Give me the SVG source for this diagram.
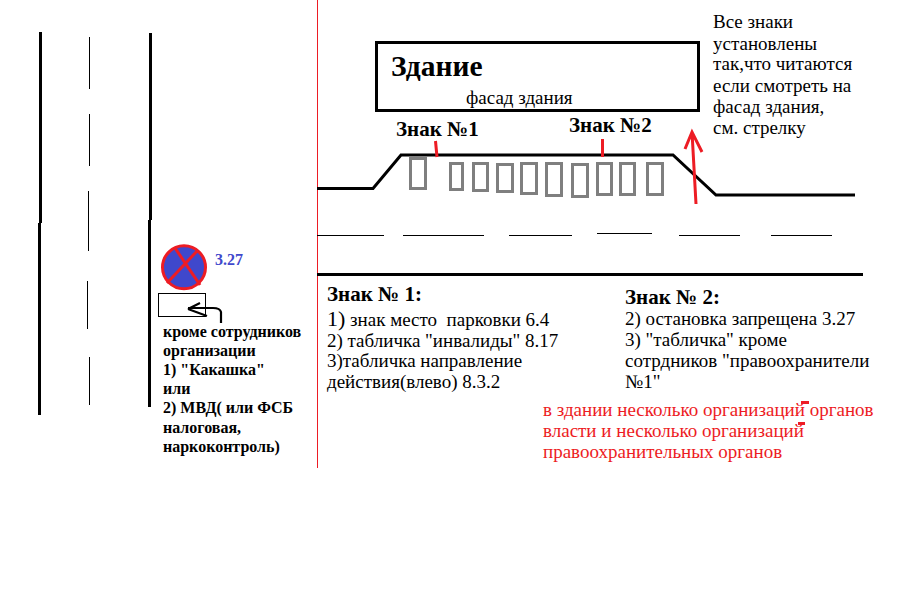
<svg xmlns="http://www.w3.org/2000/svg" width="907" height="614" viewBox="0 0 907 614">
<style>
text{font-family:"Liberation Serif","Times New Roman",serif;fill:#000}
.b{font-weight:bold}
.t16{font-size:19px}
.h{font-size:21px;font-weight:bold}
.bl{font-size:16px;font-weight:bold}
.r{fill:#ed1c24;font-size:19px}
.k{fill:none;stroke:#000}
.g{fill:none;stroke:#7f7f7f;stroke-width:3}
.red{fill:none;stroke:#ed1c24;stroke-width:3}
</style>
<rect width="907" height="614" fill="#fff"/>
<g id="connectors">
<path class="k" stroke-width="3" d="M40.500 32V223M39.500 223V415M150.500 33V220M149.500 220V407"/>
<path class="k" stroke-width="1" d="M89.500 37V89M89.500 114V166M88.500 191V251M87.500 281V329M89.500 357V405"/>
<path d="M317.500 0V468" fill="none" stroke="#ed1c24"/>
<path class="k" stroke-width="3" d="M317 188.500H373L401 155H673L716 195H855"/>
<path class="k" stroke-width="1" d="M317 235.500H384M403 235.500H484M509 235.500H572M597 233.500H652M679 235.500H740M771 235.500H832"/>
<path class="k" stroke-width="3" d="M317 274.500H863"/>
<path class="red" d="M435.500 141L437 157M602.500 139V157"/>
<path class="red" d="M692 132L696 204M685 149L692 132L702 152"/>
<path class="red" d="M801 402.500H809M798 423.500H805"/>
</g>
<g id="building">
<rect x="376.500" y="42.500" width="322" height="68" fill="none" stroke="#000" stroke-width="3"/>
<text x="391" y="76" class="b" font-size="29.500">Здание</text>
<text x="466" y="104" class="t16">фасад здания</text>
</g>
<g id="sign-labels">
<text x="396" y="136" class="h">Знак №1</text>
<text x="569" y="132" class="h">Знак №2</text>
</g>
<g id="spaces">
<rect class="g" x="410.500" y="158.500" width="15" height="30"/>
<rect class="g" x="450.500" y="163.500" width="12" height="26"/>
<rect class="g" x="473.500" y="163.500" width="14" height="27"/>
<rect class="g" x="497.500" y="164.500" width="15" height="27"/>
<rect class="g" x="521.500" y="163.500" width="15" height="30"/>
<rect class="g" x="546.500" y="163.500" width="15" height="32"/>
<rect class="g" x="572.500" y="164.500" width="15" height="32"/>
<rect class="g" x="597.500" y="163.500" width="14" height="31"/>
<rect class="g" x="620.500" y="163.500" width="14" height="31"/>
<rect class="g" x="647.500" y="163.500" width="15" height="31"/>
</g>
<g id="note-top">
<text class="t16"><tspan x="713" y="28">Все знаки</tspan><tspan x="713" y="50">установлены</tspan><tspan x="713" y="70">так,что читаются</tspan><tspan x="713" y="92">если смотреть на</tspan><tspan x="713" y="113">фасад здания,</tspan><tspan x="713" y="134">см. стрелку</tspan></text>
</g>
<g id="sign-327">
<circle cx="184" cy="267.300" r="21.500" fill="#3f48cc" stroke="#ed1c24" stroke-width="3"/>
<path class="red" d="M175 248L200 285M198 250L167 283"/>
<text x="215" y="265" class="bl" style="fill:#3f48cc">3.27</text>
<rect x="158.500" y="293.500" width="47" height="23" fill="#fff" stroke="#000"/>
<path class="k" stroke-width="2.200" d="M221 323V312Q220 308 213 308H188M188 309L200 303M188 309L207 316"/>
<text class="bl"><tspan x="163" y="337">кроме сотрудников</tspan><tspan x="163" y="356">организации</tspan><tspan x="163" y="375">1) "Какашка"</tspan><tspan x="163" y="394">или</tspan><tspan x="163" y="413">2) МВД( или ФСБ</tspan><tspan x="163" y="433">налоговая,</tspan><tspan x="163" y="452">наркоконтроль)</tspan></text>
</g>
<g id="sign1">
<text x="327" y="301" class="h">Знак № 1:</text>
<text x="327" y="326" class="t16" xml:space="preserve"><tspan font-size="22">1)</tspan> знак место  парковки 6.4</text>
<text class="t16"><tspan x="327" y="347">2) табличка "инвалиды" 8.17</tspan><tspan x="327" y="367">3)табличка направление</tspan><tspan x="327" y="388">действия(влево) 8.3.2</tspan></text>
</g>
<g id="sign2">
<text x="625" y="304" class="h">Знак № 2:</text>
<text class="t16"><tspan x="625" y="325">2) остановка запрещена 3.27</tspan><tspan x="625" y="346">3) "табличка" кроме</tspan><tspan x="625" y="367">сотрдников "правоохранители</tspan><tspan x="625" y="388">№1"</tspan></text>
</g>
<g id="note-red">
<text class="r"><tspan x="543" y="416">в здании несколько организаций органов</tspan><tspan x="543" y="437">власти и несколько организаций</tspan><tspan x="543" y="458">правоохранительных органов</tspan></text>
</g>
</svg>
